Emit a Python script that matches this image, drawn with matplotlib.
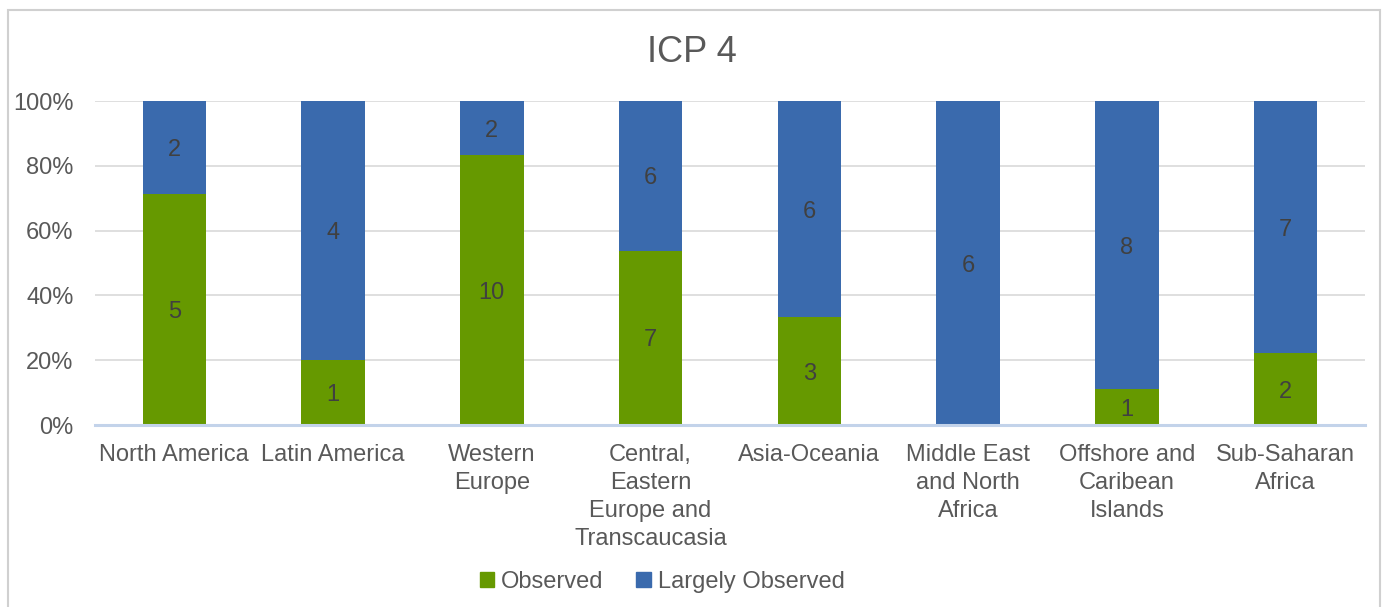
import numpy as np
import matplotlib.pyplot as plt
from matplotlib.patches import Patch, Rectangle

plt.rcParams['font.family'] = ['Liberation Sans', 'DejaVu Sans']

regions = ['North America', 'Latin America', 'Western\nEurope',
           'Central,\nEastern\nEurope and\nTranscaucasia', 'Asia-Oceania',
           'Middle East\nand North\nAfrica', 'Offshore and\nCaribean\nIslands',
           'Sub-Saharan\nAfrica']
observed = np.array([5, 1, 10, 7, 3, 0, 1, 2])
largely_observed = np.array([2, 4, 2, 6, 6, 6, 8, 7])

green = '#669900'
blue = '#3a6aad'
txt = '#595959'

total = observed + largely_observed
obs_pct = observed / total * 100
lo_pct = largely_observed / total * 100

fig = plt.figure(figsize=(13.84, 6.07), dpi=100)
ax = fig.add_axes([0.0686, 0.2998, 0.9177, 0.5338])

x = np.arange(len(regions))
w = 0.40
ax.bar(x, obs_pct, w, color=green, zorder=2)
ax.bar(x, lo_pct, w, bottom=obs_pct, color=blue, zorder=2)

# data labels, skipping empty segments
for i in range(len(x)):
    if observed[i] > 0:
        ax.text(x[i], obs_pct[i] / 2, str(observed[i]), ha='center',
                va='center_baseline', fontsize=17, color='#404040', zorder=3)
    if largely_observed[i] > 0:
        ax.text(x[i], obs_pct[i] + lo_pct[i] / 2, str(largely_observed[i]),
                ha='center', va='center_baseline', fontsize=17, color='#404040', zorder=3)

ax.set_xlim(-0.5, len(regions) - 0.5)
ax.set_ylim(0, 100)
ax.set_yticks(np.arange(0, 101, 20))
ax.set_yticklabels([f'{v}%' for v in range(0, 101, 20)])
ax.set_xticks(x)
ax.set_xticklabels(regions, linespacing=1.34)
ax.tick_params(axis='both', length=0, labelsize=17, colors=txt)
ax.tick_params(axis='x', pad=14)
ax.tick_params(axis='y', pad=15.5)
ax.grid(axis='y', color='#d9d9d9', linewidth=1.2, zorder=0)
for s in ['top', 'right', 'left']:
    ax.spines[s].set_visible(False)
ax.spines['bottom'].set_color('#c3d3ea')
ax.spines['bottom'].set_linewidth(2.2)
ax.spines['bottom'].set_zorder(4)

fig.text(0.5, 1 - 53 / 607, 'ICP 4', ha='center', va='center', fontsize=26, color=txt)

handles = [Patch(color=green, label='Observed'), Patch(color=blue, label='Largely Observed')]
fig.legend(handles=handles, loc='center', bbox_to_anchor=(662 / 1384, 1 - 582 / 607),
           ncol=2, frameon=False, fontsize=17, labelcolor=txt,
           handlelength=0.6, handleheight=0.6, handletextpad=0.3, columnspacing=1.4)

fig.patches.append(Rectangle((8 / 1384, -0.05), 1372 / 1384, 1.05 - 10 / 607,
                             transform=fig.transFigure, fill=False,
                             edgecolor='#d0d0d0', linewidth=1.5))

fig.savefig('out.png', dpi=100)
